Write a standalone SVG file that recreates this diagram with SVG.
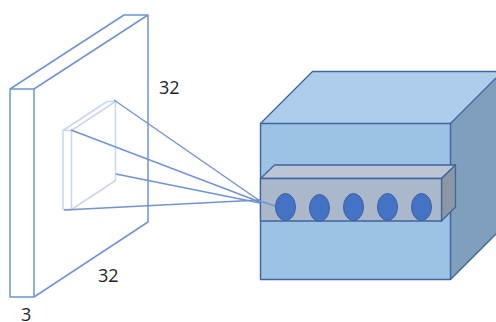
<svg xmlns="http://www.w3.org/2000/svg" width="496" height="322" viewBox="0 0 496 322">
<style>
.input{fill:none;stroke:#6f93d3;stroke-width:1.5;stroke-linejoin:round}
.patch{fill:none;stroke:#c9d6ef;stroke-width:1.5;stroke-linejoin:round}
.conn{fill:none;stroke:#6f93d3;stroke-width:1.4}
.box{stroke:#3f659c;stroke-width:1.4;stroke-linejoin:round}
.bar{stroke:#3f659c;stroke-width:1.3;stroke-linejoin:round}
.dot{fill:#4472c4;stroke:#3c619f;stroke-width:1}
text{font-family:"Open Sans","Noto Sans",sans-serif;font-size:18px;fill:#222}
</style>
<g id="input-volume">
<path class="input" d="M10 89H34V297H10ZM10 89L124 15H148L34 89M148 15V222L34 297"/>
</g>
<g id="receptive-patch">
<path class="patch" d="M63 130.500H71.500V209.500H63ZM63 130.500L107 101.500H115.500L71.500 130.500M115.500 101.500V180.500L71.500 209.500"/>
</g>
<g id="output-volume">
<path fill="#aecdea" d="M260.500 123.500L312.500 71.500H496V78L450.500 123.500Z"/>
<path fill="#7f9fbc" d="M450.500 123.500L496 78V234L450.500 279.500Z"/>
<path class="box" fill="none" d="M260.500 123.500L312.500 71.500H496M496 78L450.500 123.500M496 234L450.500 279.500"/>
<rect class="box" fill="#9cc2e6" x="260.500" y="123.500" width="190" height="156"/>
</g>
<g id="neuron-bar">
<path class="bar" fill="#bbc5d3" d="M260.500 178.500L274.500 165H455.500L441.500 178.500Z"/>
<path class="bar" fill="#8c97a6" d="M441.500 178.500L455.500 165V207L441.500 221Z"/>
<rect class="bar" fill="#abb7cb" x="260.500" y="178.500" width="181" height="42.500"/>
</g>
<g id="connectors">
<path class="conn" d="M114 100L260 201M71 130L260 202M116 174L260 203M64 210L260 200M260 201L275 206"/>
</g>
<g id="neurons">
<ellipse id="neuron-1" class="dot" cx="285.500" cy="207" rx="10" ry="13.500"/>
<ellipse id="neuron-2" class="dot" cx="319.500" cy="208" rx="10" ry="13.500"/>
<ellipse id="neuron-3" class="dot" cx="353.500" cy="207" rx="10" ry="13.500"/>
<ellipse id="neuron-4" class="dot" cx="387.500" cy="207" rx="10" ry="13.500"/>
<ellipse id="neuron-5" class="dot" cx="421.500" cy="207" rx="10" ry="13.500"/>
</g>
<g id="labels">
<text x="159" y="94">32</text>
<text x="98" y="282">32</text>
<text x="21" y="321">3</text>
</g>
</svg>
